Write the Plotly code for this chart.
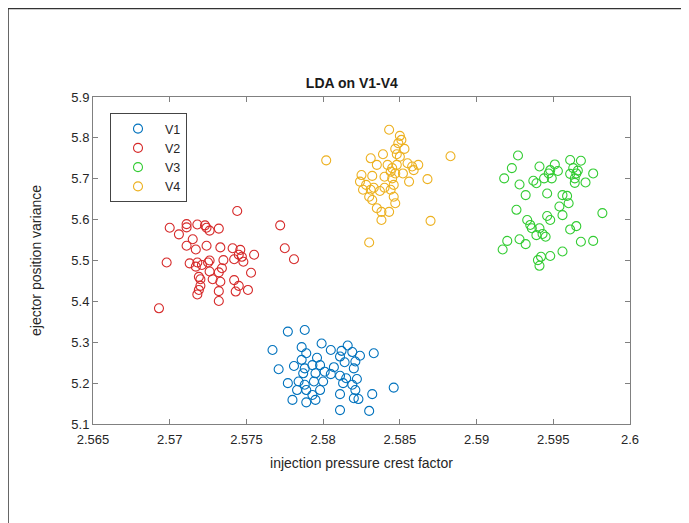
import plotly.graph_objects as go

# ---- data ----
v1_x = [2.5777, 2.5788, 2.5767, 2.5786, 2.5799, 2.5805, 2.5812, 2.5816, 2.5819, 2.5824,
        2.5833, 2.5789, 2.5786, 2.5796, 2.5811, 2.5814, 2.5821, 2.5820, 2.5771, 2.5781,
        2.5788, 2.5793, 2.5798, 2.5807, 2.5787, 2.5795, 2.5801, 2.5805, 2.5811, 2.5815,
        2.5822, 2.5777, 2.5784, 2.5788, 2.5794, 2.5800, 2.5813, 2.5819, 2.5783, 2.5789,
        2.5798, 2.5821, 2.5793, 2.5795, 2.5811, 2.5820, 2.5823, 2.5832, 2.5846, 2.5780,
        2.5789, 2.5811, 2.5830]
v1_y = [5.326, 5.330, 5.281, 5.288, 5.297, 5.281, 5.279, 5.292, 5.276, 5.267,
        5.273, 5.273, 5.257, 5.262, 5.265, 5.251, 5.253, 5.236, 5.234, 5.242,
        5.236, 5.244, 5.244, 5.239, 5.224, 5.224, 5.228, 5.222, 5.218, 5.212,
        5.210, 5.200, 5.204, 5.196, 5.204, 5.204, 5.200, 5.196, 5.183, 5.183,
        5.183, 5.183, 5.171, 5.159, 5.173, 5.163, 5.161, 5.173, 5.189, 5.159,
        5.153, 5.134, 5.132]

v2_x = [2.5744, 2.5772, 2.5700, 2.5706, 2.5711, 2.5711, 2.5718, 2.5723, 2.5724, 2.5726,
        2.5732, 2.5715, 2.5711, 2.5717, 2.5724, 2.5733, 2.5741, 2.5746, 2.5775, 2.5781,
        2.5698, 2.5713, 2.5718, 2.5717, 2.5721, 2.5726, 2.5725, 2.5735, 2.5734, 2.5742,
        2.5745, 2.5747, 2.5748, 2.5755, 2.5726, 2.5732, 2.5719, 2.5720, 2.5728, 2.5733,
        2.5742, 2.5753, 2.5720, 2.5719, 2.5718, 2.5732, 2.5743, 2.5745, 2.5751, 2.5732,
        2.5693]
v2_y = [5.621, 5.586, 5.580, 5.564, 5.589, 5.581, 5.588, 5.586, 5.580, 5.573,
        5.578, 5.552, 5.536, 5.527, 5.536, 5.532, 5.530, 5.526, 5.530, 5.503,
        5.495, 5.493, 5.495, 5.485, 5.489, 5.500, 5.495, 5.501, 5.481, 5.503,
        5.514, 5.509, 5.497, 5.514, 5.473, 5.471, 5.460, 5.454, 5.454, 5.448,
        5.452, 5.470, 5.438, 5.428, 5.417, 5.425, 5.424, 5.438, 5.428, 5.401,
        5.383]

v3_x = [2.5927, 2.5923, 2.5918, 2.5941, 2.5948, 2.5951, 2.5953, 2.5947, 2.5944, 2.5949,
        2.5961, 2.5968, 2.5963, 2.5961, 2.5965, 2.5964, 2.5964, 2.5971, 2.5976, 2.5966,
        2.5928, 2.5937, 2.5939, 2.5932, 2.5946, 2.5956, 2.5959, 2.5960, 2.5954, 2.5926,
        2.5956, 2.5946, 2.5948, 2.5982, 2.5933, 2.5935, 2.5936, 2.5941, 2.5939, 2.5943,
        2.5945, 2.5965, 2.5961, 2.5920, 2.5917, 2.5928, 2.5932, 2.5968, 2.5976, 2.5948,
        2.5956, 2.5942, 2.5940, 2.5941]
v3_y = [5.757, 5.726, 5.701, 5.730, 5.721, 5.735, 5.719, 5.713, 5.701, 5.701,
        5.746, 5.744, 5.726, 5.712, 5.713, 5.701, 5.690, 5.691, 5.713, 5.720,
        5.686, 5.695, 5.689, 5.660, 5.664, 5.660, 5.658, 5.640, 5.632, 5.624,
        5.611, 5.609, 5.599, 5.616, 5.599, 5.587, 5.579, 5.579, 5.562, 5.565,
        5.558, 5.584, 5.576, 5.548, 5.527, 5.552, 5.540, 5.546, 5.548, 5.511,
        5.522, 5.509, 5.501, 5.487]

v4_x = [2.5843, 2.5850, 2.5851, 2.5849, 2.5802, 2.5883, 2.5831, 2.5839, 2.5847, 2.5853,
        2.5848, 2.5850, 2.5835, 2.5842, 2.5845, 2.5848, 2.5855, 2.5858, 2.5862, 2.5859,
        2.5844, 2.5847, 2.5852, 2.5825, 2.5832, 2.5840, 2.5845, 2.5868, 2.5824, 2.5828,
        2.5833, 2.5840, 2.5846, 2.5856, 2.5826, 2.5831, 2.5837, 2.5844, 2.5846, 2.5830,
        2.5832, 2.5847, 2.5835, 2.5838, 2.5843, 2.5838, 2.5870, 2.5830]
v4_y = [5.820, 5.805, 5.795, 5.787, 5.745, 5.755, 5.750, 5.760, 5.773, 5.773,
        5.760, 5.754, 5.734, 5.734, 5.726, 5.734, 5.738, 5.730, 5.734, 5.721,
        5.717, 5.713, 5.713, 5.709, 5.707, 5.705, 5.701, 5.699, 5.693, 5.685,
        5.678, 5.678, 5.685, 5.693, 5.673, 5.673, 5.670, 5.673, 5.656, 5.656,
        5.648, 5.640, 5.628, 5.619, 5.619, 5.599, 5.597, 5.544]

series_names = ["V1", "V2", "V3", "V4"]
series_colors = ["#0072BD", "#D62A2A", "#33CC33", "#EDB120"]

x_ticks = [2.565, 2.57, 2.575, 2.58, 2.585, 2.59, 2.595, 2.6]
x_tick_labels = ["2.565", "2.57", "2.575", "2.58", "2.585", "2.59", "2.595", "2.6"]
y_ticks = [5.1, 5.2, 5.3, 5.4, 5.5, 5.6, 5.7, 5.8, 5.9]
y_tick_labels = ["5.1", "5.2", "5.3", "5.4", "5.5", "5.6", "5.7", "5.8", "5.9"]

xs = [v1_x, v2_x, v3_x, v4_x]
ys = [v1_y, v2_y, v3_y, v4_y]

FONT = "Liberation Sans, Arial, sans-serif"
TXT = "#262626"
AX = "#808080"

fig = go.Figure()
for name, col, x, y in zip(series_names, series_colors, xs, ys):
    fig.add_trace(go.Scatter(
        x=x, y=y, mode="markers", name=name,
        marker=dict(symbol="circle-open", size=9, color=col, line=dict(width=1.1, color=col)),
    ))

# page has an 8px body margin, so figure coords = page coords - 8
OFF = 8
W, H = 689, 523
L, T = 93 - OFF, 97 - OFF
R = W - (630 - OFF)
B = H - (424 - OFF)
pw, ph = W - L - R, H - T - B

def px_x(p):
    return (p - OFF - L) / pw

def px_y(p):
    return (H - B - (p - OFF)) / ph

fig.update_layout(
    width=W, height=H,
    margin=dict(l=L, r=R, t=T, b=B),
    paper_bgcolor="white", plot_bgcolor="white",
    font=dict(family=FONT, color=TXT, size=13),
    title=dict(text="<b>LDA on V1-V4</b>", x=px_x(361), xanchor="center",
               y=1 - (83 - OFF) / H, yanchor="middle", font=dict(size=14, color="#1a1a1a")),
    showlegend=True,
    legend=dict(x=px_x(110), y=px_y(113), xanchor="left", yanchor="top",
                bgcolor="white", bordercolor="#444444", borderwidth=1,
                font=dict(size=12.5, color=TXT), tracegroupgap=0,
                itemwidth=44),
    xaxis=dict(range=[2.565, 2.6], tickvals=x_ticks, ticktext=x_tick_labels,
               showgrid=False, zeroline=False, showline=True, linecolor=AX, linewidth=1,
               mirror="ticks", ticks="inside", ticklen=5, tickcolor=AX,
               tickfont=dict(size=13, color=TXT), ticklabelstandoff=3,
               title=dict(text="injection pressure crest factor", font=dict(size=14, color=TXT), standoff=12)),
    yaxis=dict(range=[5.1, 5.9], tickvals=y_ticks, ticktext=y_tick_labels,
               showgrid=False, zeroline=False, showline=True, linecolor=AX, linewidth=1,
               mirror="ticks", ticks="inside", ticklen=5, tickcolor=AX,
               tickfont=dict(size=13, color=TXT),
               title=dict(text="ejector position variance", font=dict(size=14, color=TXT), standoff=26)),
)

# partial frame around the figure (top and left edges)
fig.add_shape(type="line", xref="paper", yref="paper",
              x0=px_x(7), x1=px_x(W + 20), y0=px_y(8.5), y1=px_y(8.5),
              line=dict(color="#333333", width=1.5))
fig.add_shape(type="line", xref="paper", yref="paper",
              x0=px_x(8), x1=px_x(8), y0=px_y(8), y1=px_y(H + 20),
              line=dict(color="#333333", width=1.5))

fig.write_html("out.html")
